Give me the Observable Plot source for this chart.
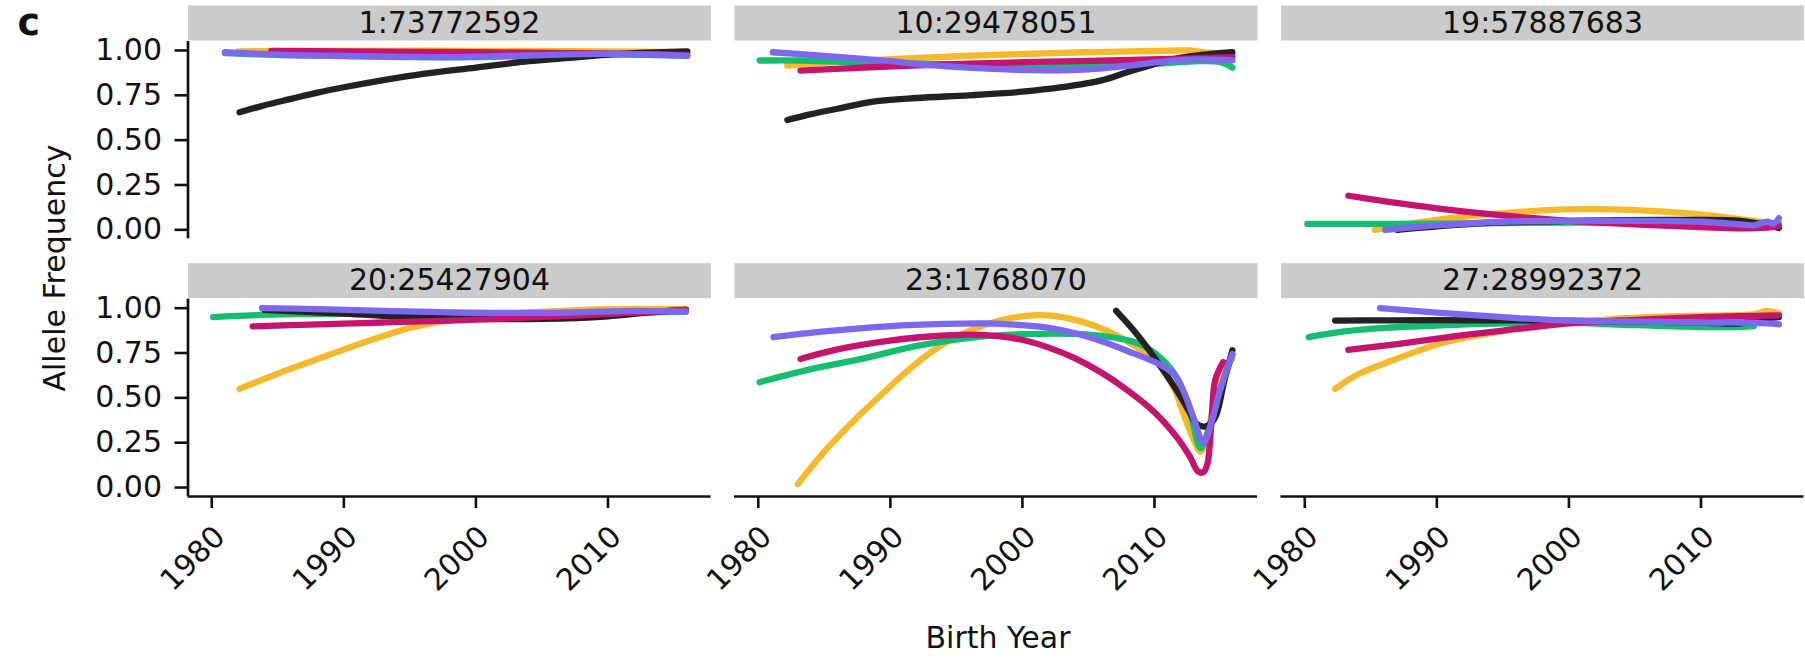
<!DOCTYPE html>
<html>
<head>
<meta charset="utf-8">
<script src="https://cdn.jsdelivr.net/npm/d3@7"></script>
<script src="https://cdn.jsdelivr.net/npm/@observablehq/plot@0.6"></script>
<style>
html, body { margin: 0; padding: 0; background: #ffffff; }
#chart { position: relative; width: 1805px; height: 663px; overflow: hidden; background: #ffffff; }
#chart svg { position: absolute; left: 0; top: 0; }
</style>
</head>
<body>
<div id="chart"></div>
<script>
// ---------- labels, series, ticks ----------
const panelLabels = ["1:73772592", "10:29478051", "19:57887683", "20:25427904", "23:1768070", "27:28992372"];
const seriesNames = ["Group 1", "Group 2", "Group 3", "Group 4", "Group 5"];
const seriesColors = ["#F6B92B", "#14BE6E", "#222222", "#C4146F", "#7B68EE"];
const yTicks = [0, 0.25, 0.5, 0.75, 1];
const xTicks = [1980, 1990, 2000, 2010];
const yearRange = [1980, 2016];
const valueRange = [0, 1];
const xAxisTitle = "Birth Year";
const yAxisTitle = "Allele Frequency";
const panelTag = "c";

// ---------- values: [birth year, allele frequency]; series order: yellow, green, black, magenta, purple ----------
// 1:73772592
const s1_yellow = [[1982, 0.995], [1990, 0.998], [2000, 0.998], [2010, 0.995], [2016, 0.99]];
const s1_green = [[1981, 0.985], [1985, 0.975], [1990, 0.968], [1998, 0.962], [2004, 0.97], [2008, 0.977], [2013, 0.976], [2016, 0.97]];
const s1_black = [[1982.1, 0.655], [1984, 0.695], [1986, 0.73], [1988, 0.765], [1990, 0.795], [1993, 0.835], [1996, 0.87], [2000, 0.905], [2004, 0.94], [2008, 0.965], [2012, 0.985], [2016, 0.995]];
const s1_magenta = [[1984.5, 0.997], [1990, 0.995], [2000, 0.99], [2008, 0.985], [2012, 0.98], [2016, 0.975]];
const s1_purple = [[1981, 0.99], [1985, 0.977], [1990, 0.97], [1998, 0.963], [2004, 0.972], [2008, 0.98], [2013, 0.978], [2016, 0.97]];
// 10:29478051
const s2_yellow = [[1982.2, 0.915], [1987, 0.94], [1993, 0.962], [1999, 0.978], [2004.6, 0.99], [2010, 0.997], [2012.6, 1.0], [2013.8, 0.99], [2014.6, 0.985], [2015.9, 0.97]];
const s2_green = [[1980.1, 0.944], [1983, 0.944], [1987, 0.935], [1993, 0.925], [2000, 0.915], [2005, 0.91], [2010, 0.925], [2013, 0.94], [2015, 0.935], [2015.9, 0.905]];
const s2_black = [[1982.2, 0.612], [1984, 0.645], [1986, 0.675], [1988.7, 0.715], [1992, 0.735], [1996, 0.75], [2000, 0.77], [2003, 0.795], [2006, 0.833], [2008, 0.88], [2010.3, 0.93], [2012, 0.96], [2013.5, 0.975], [2015.9, 0.99]];
const s2_magenta = [[1983.2, 0.888], [1988, 0.905], [1995.9, 0.926], [2001, 0.936], [2006.6, 0.944], [2012, 0.955], [2015.9, 0.963]];
const s2_purple = [[1981.1, 0.99], [1985, 0.97], [1990, 0.94], [1993, 0.918], [1997, 0.9], [2001, 0.89], [2005, 0.895], [2008, 0.915], [2010.3, 0.935], [2013, 0.95], [2015.9, 0.945]];
// 19:57887683
const s3_yellow = [[1985.3, 0.0], [1988, 0.035], [1991, 0.065], [1994.6, 0.09], [1998, 0.108], [2001.3, 0.115], [2005, 0.11], [2009.3, 0.09], [2013.4, 0.055], [2015.9, 0.03]];
const s3_green = [[1980.2, 0.033], [1985, 0.033], [1990, 0.034], [2000, 0.04], [2010, 0.04], [2015.9, 0.035]];
const s3_black = [[1987, 0.0], [1993, 0.035], [2000, 0.05], [2008, 0.055], [2013, 0.05], [2015.9, 0.01]];
const s3_magenta = [[1983.3, 0.19], [1986, 0.16], [1990, 0.12], [1995, 0.08], [2000, 0.05], [2005, 0.03], [2010, 0.015], [2013, 0.008], [2015, 0.012], [2015.9, 0.02]];
const s3_purple = [[1986.1, 0.0], [1990, 0.025], [1995, 0.045], [2000, 0.05], [2005, 0.05], [2010, 0.045], [2013, 0.03], [2014, 0.025], [2015, 0.045], [2015.5, 0.035], [2015.9, 0.065]];
// 20:25427904
const s4_yellow = [[1982.1, 0.55], [1985, 0.635], [1987.7, 0.708], [1990, 0.77], [1992.7, 0.838], [1995, 0.89], [1997.8, 0.931], [2001, 0.96], [2005, 0.98], [2010, 0.995], [2015.9, 0.995]];
const s4_green = [[1980.1, 0.95], [1985, 0.965], [1990, 0.97], [2000, 0.97], [2010, 0.975], [2015.9, 0.98]];
const s4_black = [[1984, 0.99], [1990, 0.97], [1995, 0.95], [2000, 0.94], [2005, 0.94], [2010, 0.955], [2013, 0.975], [2015.9, 0.99]];
const s4_magenta = [[1983.1, 0.898], [1988, 0.91], [1993, 0.92], [1998, 0.93], [2003, 0.945], [2008, 0.96], [2012, 0.975], [2015.9, 0.99]];
const s4_purple = [[1983.8, 1.0], [1988, 0.995], [1993, 0.985], [2000, 0.975], [2007, 0.975], [2012, 0.985], [2015.9, 0.98]];
// 23:1768070
const s5_yellow = [[1983, 0.02], [1985, 0.2], [1987.2, 0.37], [1989.5, 0.53], [1991.6, 0.67], [1994, 0.8], [1996, 0.875], [1998.5, 0.935], [2000.8, 0.96], [2002.5, 0.955], [2004.5, 0.925], [2006.5, 0.87], [2008.5, 0.79], [2010.3, 0.69], [2011.5, 0.55], [2012.3, 0.39], [2013, 0.26], [2013.5, 0.2], [2014, 0.3], [2014.6, 0.5], [2015.3, 0.65], [2015.9, 0.72]];
const s5_green = [[1980.1, 0.587], [1984, 0.66], [1988, 0.72], [1992, 0.79], [1996, 0.835], [2000, 0.855], [2004.6, 0.855], [2007, 0.835], [2008.9, 0.8], [2010.5, 0.72], [2011.8, 0.6], [2012.7, 0.42], [2013.5, 0.22], [2014.2, 0.35], [2015, 0.55], [2015.9, 0.74]];
const s5_black = [[2007.1, 0.985], [2008.5, 0.87], [2009.6, 0.765], [2010.7, 0.65], [2011.7, 0.54], [2012.5, 0.44], [2013.2, 0.355], [2013.8, 0.34], [2014.3, 0.36], [2014.7, 0.41], [2015.3, 0.6], [2015.9, 0.765]];
const s5_magenta = [[1983.2, 0.717], [1986, 0.77], [1990.1, 0.82], [1993, 0.842], [1995.9, 0.853], [1998, 0.845], [2000.2, 0.82], [2002, 0.78], [2004, 0.72], [2006, 0.64], [2008, 0.54], [2010, 0.42], [2011.8, 0.27], [2012.7, 0.17], [2013.3, 0.09], [2013.7, 0.085], [2014.0, 0.13], [2014.3, 0.35], [2014.6, 0.6], [2015.2, 0.7]];
const s5_purple = [[1981.15, 0.838], [1985, 0.87], [1990, 0.9], [1994, 0.912], [1997.3, 0.915], [2000, 0.905], [2002, 0.89], [2004, 0.86], [2006, 0.815], [2008, 0.76], [2010.3, 0.69], [2011.5, 0.63], [2012.3, 0.52], [2013.0, 0.38], [2013.7, 0.25], [2014.3, 0.36], [2015, 0.55], [2015.9, 0.745]];
// 27:28992372
const s6_yellow = [[1982.3, 0.55], [1984, 0.63], [1986.6, 0.708], [1990.6, 0.81], [1994, 0.86], [1997.3, 0.894], [2002.6, 0.935], [2008, 0.955], [2012, 0.96], [2014, 0.965], [2015, 0.985], [2015.9, 0.97]];
const s6_green = [[1980.3, 0.838], [1983, 0.87], [1986, 0.89], [1990, 0.903], [1995, 0.915], [2000, 0.92], [2005, 0.905], [2010, 0.895], [2013, 0.895], [2014, 0.9]];
const s6_black = [[1982.3, 0.931], [1986, 0.932], [1990, 0.933], [1995, 0.932], [2000, 0.93], [2005, 0.925], [2010, 0.92], [2013, 0.915], [2014.5, 0.94], [2015.9, 0.95]];
const s6_magenta = [[1983.3, 0.767], [1987, 0.8], [1991, 0.84], [1995, 0.875], [2000, 0.915], [2005, 0.935], [2010, 0.95], [2013, 0.955], [2015.9, 0.96]];
const s6_purple = [[1985.7, 1.0], [1990, 0.975], [1995, 0.95], [2000, 0.93], [2005, 0.925], [2010, 0.92], [2013, 0.92], [2015, 0.915], [2015.9, 0.91]];

const panelSeries = [
  [s1_yellow, s1_green, s1_black, s1_magenta, s1_purple],
  [s2_yellow, s2_green, s2_black, s2_magenta, s2_purple],
  [s3_yellow, s3_green, s3_black, s3_magenta, s3_purple],
  [s4_yellow, s4_green, s4_black, s4_magenta, s4_purple],
  [s5_yellow, s5_green, s5_black, s5_magenta, s5_purple],
  [s6_yellow, s6_green, s6_black, s6_magenta, s6_purple]
];

// ---------- layout & style ----------
const W = 1805, H = 663;
const colLeft = [187.5, 734, 1280.5];
const rowTop = [41, 298.7];
const panelW = 523, panelH = 197.3;
const stripH = 35;
const ink = "#111111";
const stripFill = "#CBCBCB";
const fs = 30;
const font = "'DejaVu Sans', 'Liberation Sans', Arial, sans-serif";
const expand = (r, f) => [r[0] - (r[1] - r[0]) * f, r[1] + (r[1] - r[0]) * f];
const xDomain = expand(yearRange, 0.05);
const yDomain = expand(valueRange, 0.05);
const svgStyle = {background: "none", fontFamily: font, color: ink, overflow: "visible"};

function rowsFor(list) {
  return list.flatMap((pts, k) => pts.map(([year, value]) => ({year, value, series: seriesNames[k]})));
}

const chart = document.getElementById("chart");

panelLabels.forEach((label, i) => {
  const col = i % 3, row = Math.floor(i / 3);
  const left = colLeft[col], top = rowTop[row];
  const marks = [
    Plot.frame({fill: stripFill, stroke: "none", insetTop: -(stripH + 1), insetBottom: panelH + 1}),
    Plot.text([label], {frameAnchor: "top", dy: -(stripH / 2 + 1), text: (d) => d, fontSize: fs, fill: ink, textAnchor: "middle", lineAnchor: "middle"})
  ];
  if (col === 0) {
    marks.push(
      Plot.axisY({ticks: yTicks, tickFormat: d3.format(".2f"), tickSize: 13, tickPadding: 13, fontSize: fs, strokeWidth: 2.6, label: null}),
      Plot.ruleX([xDomain[0]], {stroke: ink, strokeWidth: 2.7})
    );
  }
  if (row === 1) {
    marks.push(
      Plot.axisX({ticks: xTicks, tickFormat: (d) => String(d), tickRotate: -45, textAnchor: "end", lineAnchor: "top", tickSize: 12, tickPadding: 15, fontSize: fs, strokeWidth: 2.6, label: null}),
      Plot.ruleY([yDomain[0]], {stroke: ink, strokeWidth: 2.7})
    );
  }
  marks.push(
    Plot.line(rowsFor(panelSeries[i]), {x: "year", y: "value", z: "series", stroke: "series", strokeWidth: 6.3, curve: "catmull-rom", strokeLinejoin: "round"})
  );
  const svg = Plot.plot({
    width: W, height: H,
    marginLeft: left, marginRight: W - left - panelW,
    marginTop: top, marginBottom: H - top - panelH,
    x: {domain: xDomain, axis: null},
    y: {domain: yDomain, axis: null},
    color: {type: "ordinal", domain: seriesNames, range: seriesColors},
    style: svgStyle,
    marks
  });
  chart.appendChild(svg);
});

// axis titles and panel tag
const titles = Plot.plot({
  width: W, height: H, margin: 0,
  style: svgStyle,
  marks: [
    Plot.text([panelTag], {frameAnchor: "top-left", dx: 17, dy: 22, text: (d) => d, fontSize: 38, fontWeight: "bold", textAnchor: "start", lineAnchor: "middle", fill: ink}),
    Plot.text([yAxisTitle], {frameAnchor: "top-left", dx: 54.5, dy: 267.5, text: (d) => d, rotate: -90, fontSize: fs, textAnchor: "middle", lineAnchor: "middle", fill: ink}),
    Plot.text([xAxisTitle], {frameAnchor: "top-left", dx: 997.5, dy: 638, text: (d) => d, fontSize: fs, textAnchor: "middle", lineAnchor: "middle", fill: ink})
  ]
});
chart.appendChild(titles);
</script>
</body>
</html>
